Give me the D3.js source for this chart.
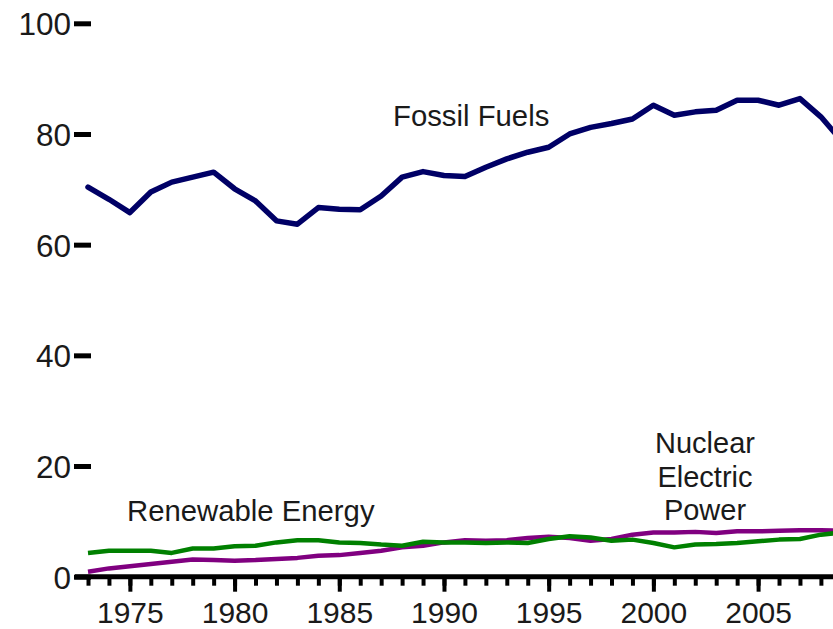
<!DOCTYPE html>
<html>
<head>
<meta charset="utf-8">
<script src="https://cdn.jsdelivr.net/npm/d3@7/dist/d3.min.js"></script>
<style>
  html, body { margin: 0; padding: 0; background: #fff; }
  svg { display: block; }
  text { font-family: "Liberation Sans", Arial, sans-serif; fill: #1a1a1a; }
</style>
</head>
<body>
<script>
// ---- data ----
const years = [1973,1974,1975,1976,1977,1978,1979,1980,1981,1982,1983,1984,1985,1986,1987,1988,1989,1990,1991,1992,1993,1994,1995,1996,1997,1998,1999,2000,2001,2002,2003,2004,2005,2006,2007,2008,2009];
const fossilFuels = [70.4,68.2,65.8,69.5,71.3,72.2,73.1,70.1,67.9,64.3,63.7,66.7,66.4,66.3,68.8,72.2,73.2,72.5,72.3,74.0,75.5,76.7,77.6,80.0,81.2,81.9,82.7,85.2,83.4,84.0,84.3,86.1,86.1,85.2,86.4,83.1,78.7];
const renewableEnergy = [4.3,4.7,4.7,4.7,4.3,5.1,5.1,5.5,5.6,6.2,6.6,6.6,6.2,6.1,5.8,5.6,6.3,6.2,6.2,6.1,6.2,6.1,6.8,7.3,7.1,6.5,6.7,6.1,5.3,5.8,5.9,6.1,6.4,6.7,6.8,7.6,8.0];
const nuclearElectricPower = [0.9,1.5,1.9,2.3,2.7,3.1,3.0,2.9,3.0,3.2,3.4,3.8,3.9,4.3,4.7,5.3,5.6,6.2,6.6,6.5,6.6,7.0,7.2,7.0,6.5,6.8,7.6,8.0,8.0,8.1,7.9,8.2,8.2,8.3,8.4,8.4,8.3];
const yTickValues = [0,20,40,60,80,100];
const xMajorTicks = [1975,1980,1985,1990,1995,2000,2005];
const seriesLabels = { fossil: "Fossil Fuels", renewable: "Renewable Energy", nuclear: ["Nuclear","Electric","Power"] };

// ---- chart ----
const W = 833, H = 629;
const svg = d3.select("body").append("svg").attr("width", W).attr("height", H);

const x = d3.scaleLinear().domain([1973, 2009]).range([88, 88 + 36 * 20.94]);
const y = d3.scaleLinear().domain([0, 100]).range([576.7, 23.3]);

// y axis: labels left, short thick dashes to the right
const yAxis = d3.axisLeft(y).tickValues(yTickValues).tickSize(-17).tickPadding(3).tickFormat(d3.format("d"));
const gy = svg.append("g").attr("transform", "translate(74,0)").call(yAxis);
gy.select(".domain").remove();
gy.selectAll(".tick line").attr("stroke", "#000").attr("stroke-width", 5);
gy.selectAll(".tick text").attr("font-size", 31.5).attr("fill", "#1a1a1a").attr("dy", "0.36em")
  .style("font-family", "'Liberation Sans', Arial, sans-serif");

// x axis: minor ticks each year
const gxMinor = svg.append("g").attr("transform", `translate(0,${y(0)})`)
  .call(d3.axisBottom(x).tickValues(years).tickSize(9).tickFormat(""));
gxMinor.select(".domain").remove();
gxMinor.selectAll(".tick line").attr("stroke", "#000").attr("stroke-width", 4);

// major ticks + labels
const gxMajor = svg.append("g").attr("transform", `translate(0,${y(0)})`)
  .call(d3.axisBottom(x).tickValues(xMajorTicks).tickSize(15).tickPadding(10).tickFormat(d3.format("d")));
gxMajor.select(".domain").remove();
gxMajor.selectAll(".tick line").attr("stroke", "#000").attr("stroke-width", 4);
gxMajor.selectAll(".tick text").attr("font-size", 30).attr("fill", "#1a1a1a")
  .style("font-family", "'Liberation Sans', Arial, sans-serif");

// axis baseline
svg.append("line").attr("x1", 75).attr("x2", W).attr("y1", y(0)).attr("y2", y(0))
  .attr("stroke", "#000").attr("stroke-width", 5);

// lines
const line = vals => d3.line().x((d, i) => x(years[i])).y(d => y(d))(vals);
svg.append("path").attr("d", line(nuclearElectricPower)).attr("fill", "none")
  .attr("stroke", "#800080").attr("stroke-width", 4.5).attr("stroke-linejoin", "round");
svg.append("path").attr("d", line(renewableEnergy)).attr("fill", "none")
  .attr("stroke", "#008000").attr("stroke-width", 4.5).attr("stroke-linejoin", "round");
svg.append("path").attr("d", line(fossilFuels)).attr("fill", "none")
  .attr("stroke", "#000066").attr("stroke-width", 5.5).attr("stroke-linejoin", "round").attr("stroke-linecap", "round");

// annotations
svg.append("text").attr("x", 393).attr("y", 126).attr("font-size", 29.3).text(seriesLabels.fossil);
svg.append("text").attr("x", 127).attr("y", 521).attr("font-size", 29.3).text(seriesLabels.renewable);
const nuc = svg.append("text").attr("text-anchor", "middle").attr("font-size", 29);
seriesLabels.nuclear.forEach((t, i) => {
  nuc.append("tspan").attr("x", 705).attr("y", 453 + i * 33.5).text(t);
});
</script>
</body>
</html>
